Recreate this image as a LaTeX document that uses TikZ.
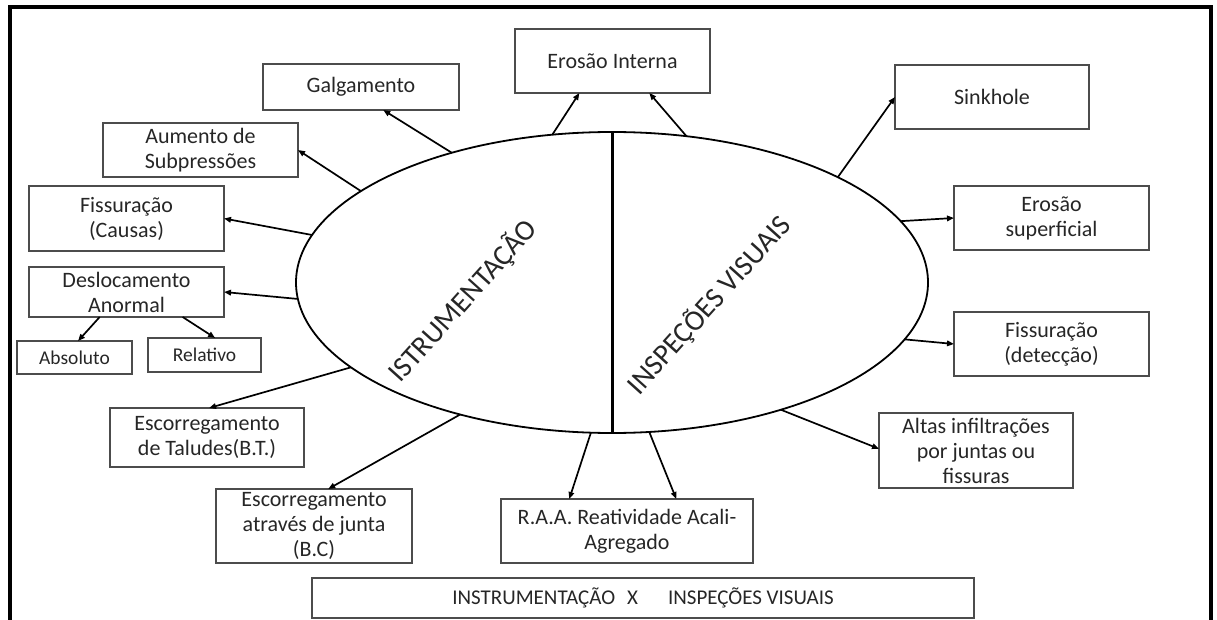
\documentclass[tikz,border=0pt]{standalone}
\usepackage{fontspec}
\setmainfont{Carlito}
\usepackage{tikz}
\usetikzlibrary{arrows.meta, shapes.geometric}

\begin{document}
\begin{tikzpicture}[x=1pt, y=-1pt, >={Triangle[length=7pt,width=5.5pt]},
  box/.style={draw=black!70, line width=1.2pt, rectangle, inner sep=0pt, outer sep=0pt,
    align=center, text=black!85, font=\fontsize{22}{25}\selectfont},
  smallbox/.style={box, font=\fontsize{19.5}{23}\selectfont},
  conn/.style={->, line width=1.7pt},
  lbl/.style={font=\fontsize{29}{33}\selectfont, text=black!85, rotate=48, inner sep=0pt}
]
  \useasboundingbox (0,0) rectangle (1217,620);
  \draw[line width=3.5pt] (10,630) -- (10,7) -- (1211,7) -- (1211,630);

  % central ellipse
  \node[ellipse, draw, line width=1.8pt, minimum width=632pt, minimum height=301pt,
    inner sep=0pt, outer sep=0pt] (ell) at (612,282.5) {};
  \draw[line width=3pt] (ell.north) -- (ell.south);
  \node[lbl] (instr) at (463,301) {ISTRUMENTAÇÃO};
  \node[lbl] (insp) at (709,305) {INSPEÇÕES VISUAIS};

  % left side boxes
  \node[box, minimum width=195pt, minimum height=64pt] (eroint) at (612.5,61) {Erosão Interna};
  \node[box, minimum width=196pt, minimum height=46pt] (galg) at (361,87) {Galgamento};
  \node[box, minimum width=195pt, minimum height=54pt] (aum) at (200.5,150) {Aumento de\\Subpressões};
  \node[box, minimum width=195pt, minimum height=65pt] (fisscau) at (126.5,218.5) {Fissuração\\(Causas)};
  \node[box, minimum width=195pt, minimum height=50pt] (desl) at (126.5,292) {Deslocamento\\Anormal};
  \node[smallbox, minimum width=115pt, minimum height=33pt] (abs) at (74.5,357.5) {Absoluto};
  \node[smallbox, minimum width=113pt, minimum height=34pt] (rel) at (204.5,355) {Relativo};
  \node[box, minimum width=194pt, minimum height=59pt] (tal) at (207,437.5) {Escorregamento\\de Taludes(B.T.)};
  \node[box, minimum width=196pt, minimum height=74pt] (junta) at (314,526) {Escorregamento\\através de junta\\(B.C)};
  \node[box, minimum width=252pt, minimum height=64pt] (raa) at (627,531) {R.A.A. Reatividade Acali-\\Agregado};

  % right side boxes
  \node[box, minimum width=194pt, minimum height=64pt] (sink) at (992,97) {Sinkhole};
  \node[box, minimum width=195pt, minimum height=64pt] (erosup) at (1051.5,218) {Erosão\\superficial};
  \node[box, minimum width=195pt, minimum height=64pt] (fissdet) at (1051.5,344) {Fissuração\\(detecção)};
  \node[box, minimum width=194pt, minimum height=75pt] (infil) at (976,450.5) {Altas infiltrações\\por juntas ou\\fissuras};

  \node[box, minimum width=662pt, minimum height=40pt, font=\fontsize{21}{25}\selectfont] (compar) at (643,598)
    {INSTRUMENTAÇÃO\hspace{12pt}X\hspace{30pt}INSPEÇÕES VISUAIS};

  % connectors
  \draw[conn] (ell.112.1) -- (eroint.-136.3);
  \draw[conn] (ell.63.7) -- (eroint.-41.2);
  \draw[conn] (ell.141.4) -- (galg.-46.3);
  \draw[conn] (ell.160) -- (aum.0);
  \draw[conn] (ell.171) -- (fisscau.0);
  \draw[conn] (ell.-177.5) -- (desl.0);
  \draw[conn] (desl.-137.7) -- (abs.78.7);
  \draw[conn] (desl.-24.25) -- (rel.58.3);
  \draw[conn] (ell.-162.3) -- (tal.86);
  \draw[conn] (ell.-139.5) -- (junta.69.3);
  \draw[conn] (ell.-98.3) -- (raa.151.5);
  \draw[conn] (ell.-76.9) -- (raa.33.7);
  \draw[conn] (ell.-37.1) -- (infil.179);
  \draw[conn] (ell.-11.5) -- (fissdet.180);
  \draw[conn] (ell.12.97) -- (erosup.180);
  \draw[conn] (ell.25.4) -- (sink.180);
\end{tikzpicture}
\end{document}
